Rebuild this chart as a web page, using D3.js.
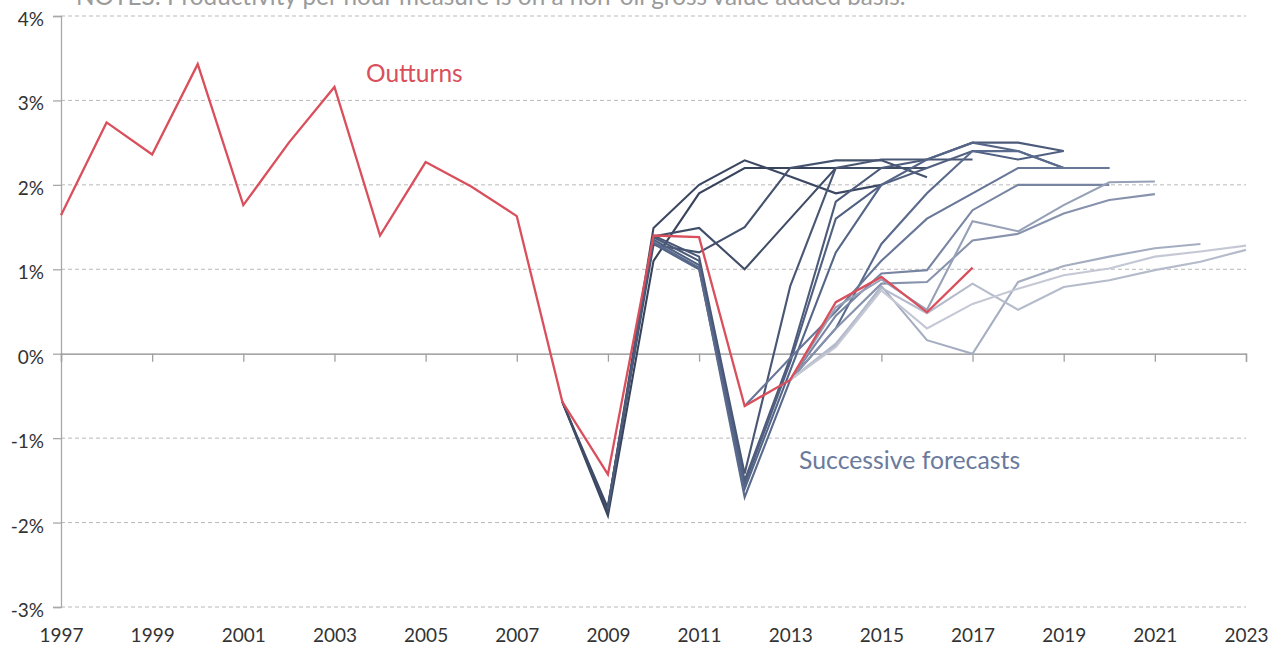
<!DOCTYPE html>
<html>
<head>
<meta charset="utf-8">
<script src="https://cdn.jsdelivr.net/npm/d3@7"></script>
<style>
  html, body { margin: 0; padding: 0; background: #fff; }
  svg { display: block; }
  .tick text { font-family: Lato, "Open Sans", sans-serif; }
</style>
</head>
<body>
<svg id="chart" width="1278" height="648"></svg>
<script>
// ---------- data ----------
const outturnYears = d3.range(1997, 2018);
const outturnValues = [1.64, 2.74, 2.36, 3.43, 1.76, 2.50, 3.16, 1.40, 2.27, 1.98, 1.63,
                       -0.57, -1.43, 1.40, 1.38, -0.62, -0.31, 0.61, 0.91, 0.49, 1.02];

// successive forecasts, earliest first: start year + values
const forecastStarts = [2008, 2008, 2008, 2009, 2009, 2009, 2010, 2010, 2010, 2012, 2013, 2013, 2013, 2013, 2013, 2013];
const fc01 = [-0.57, -1.92, 1.10, 1.90, 2.20, 2.20, 2.20, 2.20];
const fc02 = [-0.57, -1.83, 1.49, 2.00, 2.29, 2.10, 1.90, 2.00];
const fc03 = [-0.57, -1.87, 1.39, 1.49, 1.00, 1.60, 2.20, 2.20, 2.20];
const fc04 = [-1.80, 1.29, 1.20, 1.50, 2.20, 2.29, 2.29, 2.09];
const fc05 = [-1.82, 1.40, 1.15, -1.42, 0.80, 2.20, 2.30, 2.30, 2.30];
const fc06 = [-1.84, 1.38, 1.10, -1.50, -0.05, 1.80, 2.20, 2.30, 2.50, 2.50, 2.40];
const fc07 = [1.35, 1.05, -1.55, -0.10, 1.60, 2.00, 2.20, 2.40, 2.30, 2.40];
const fc08 = [1.30, 1.00, -1.60, -0.20, 1.20, 2.00, 2.30, 2.50, 2.40, 2.20, 2.20];
const fc09 = [1.32, 1.02, -1.70, -0.31, 0.30, 1.30, 1.90, 2.40, 2.40, 2.20, 2.20];
const fc10 = [-0.62, -0.05, 0.50, 1.10, 1.60, 1.90, 2.20, 2.20, 2.20];
const fc11 = [-0.31, 0.45, 0.95, 0.99, 1.70, 2.00, 2.00, 2.00];
const fc12 = [-0.31, 0.30, 0.83, 0.85, 1.34, 1.42, 1.66, 1.82, 1.89];
const fc13 = [-0.31, 0.55, 0.88, 0.52, 1.57, 1.45, 1.76, 2.03, 2.04];
const fc14 = [-0.31, 0.10, 0.80, 0.16, 0.00, 0.85, 1.04, 1.15, 1.25, 1.30];
const fc15 = [-0.31, 0.12, 0.78, 0.48, 0.83, 0.52, 0.79, 0.87, 0.99, 1.09, 1.23];
const fc16 = [-0.31, 0.08, 0.75, 0.30, 0.59, 0.77, 0.93, 1.01, 1.15, 1.21, 1.28];
const forecasts = [fc01, fc02, fc03, fc04, fc05, fc06, fc07, fc08, fc09, fc10, fc11, fc12, fc13, fc14, fc15, fc16];

const xTickYears = d3.range(1997, 2024, 2);
const yTickValues = [-3, -2, -1, 0, 1, 2, 3, 4];
const noteText = "NOTES: Productivity per hour measure is on a non-oil gross value added basis.";
const outturnLabel = "Outturns";
const forecastLabel = "Successive forecasts";

// ---------- layout ----------
const svg = d3.select("#chart");
const x = d3.scaleLinear().domain([1997, 2023]).range([61, 1246]);
const y = d3.scaleLinear().domain([-3, 4]).range([607, 16]);
const RED = "#d94f5c";
const fcColor = d3.scaleLinear().domain([0, 8, 15])
  .range(["#38435c", "#596a8d", "#c4c8d5"]).interpolate(d3.interpolateRgb);

// note text (cut at top, as in the reference)
svg.append("text")
  .attr("x", 76).attr("y", 5)
  .attr("font-family", "Lato, 'Open Sans', sans-serif")
  .attr("font-size", 24.3)
  .attr("fill", "#9b9b9b")
  .text(noteText);

// gridlines
svg.append("g").selectAll("line")
  .data(yTickValues.filter(d => d !== 0))
  .join("line")
  .attr("x1", x(1997)).attr("x2", x(2023))
  .attr("y1", d => y(d)).attr("y2", d => y(d))
  .attr("stroke", "#b9b9b9").attr("stroke-width", 1)
  .attr("stroke-dasharray", "4,3");

// y axis
const yAxis = svg.append("g")
  .attr("transform", `translate(${x(1997)},0)`)
  .call(d3.axisLeft(y).tickValues(yTickValues).tickSize(8).tickPadding(9)
        .tickFormat(d => d + "%"));
yAxis.select(".domain").attr("stroke", "#a8a8a8").attr("stroke-width", 1.3);
yAxis.selectAll(".tick line").attr("stroke", "#a8a8a8").attr("stroke-width", 1.3);
yAxis.selectAll(".tick text").attr("font-size", 19).attr("fill", "#333").attr("dy", "0.5em");

// x axis on zero line (ticks only)
const xAxis = svg.append("g")
  .attr("transform", `translate(0,${y(0)})`)
  .call(d3.axisBottom(x).tickValues(xTickYears).tickSize(8).tickFormat(""));
xAxis.select(".domain").attr("stroke", "#8a8a8a").attr("stroke-width", 1.3);
xAxis.selectAll(".tick line").attr("stroke", "#a0a0a0").attr("stroke-width", 1.3);

// x labels at bottom
const xLab = svg.append("g")
  .attr("transform", `translate(0,${y(-3)})`)
  .call(d3.axisBottom(x).tickValues(xTickYears).tickSize(0).tickFormat(d3.format("d")));
xLab.select(".domain").remove();
xLab.selectAll(".tick text").attr("font-size", 19).attr("fill", "#333").attr("y", 35).attr("dy", 0);

// forecasts
const line = d3.line().x(d => x(d[0])).y(d => y(d[1]));
const fg = svg.append("g").attr("fill", "none");
forecasts.forEach((vals, i) => {
  const pts = vals.map((v, j) => [forecastStarts[i] + j, v]);
  fg.append("path")
    .attr("d", line(pts))
    .attr("stroke", fcColor(i))
    .attr("stroke-width", 2.1)
    .attr("stroke-linejoin", "miter");
});

// outturn
svg.append("path")
  .attr("d", line(outturnYears.map((yr, i) => [yr, outturnValues[i]])))
  .attr("fill", "none").attr("stroke", RED).attr("stroke-width", 2.3);

// labels
svg.append("text").attr("x", 366).attr("y", 82)
  .attr("font-family", "Lato, 'Open Sans', sans-serif").attr("font-size", 24.5)
  .attr("fill", RED).text(outturnLabel);
svg.append("text").attr("x", 799).attr("y", 469)
  .attr("font-family", "Lato, 'Open Sans', sans-serif").attr("font-size", 24.8)
  .attr("fill", "#6b7a9c").text(forecastLabel);
</script>
</body>
</html>
